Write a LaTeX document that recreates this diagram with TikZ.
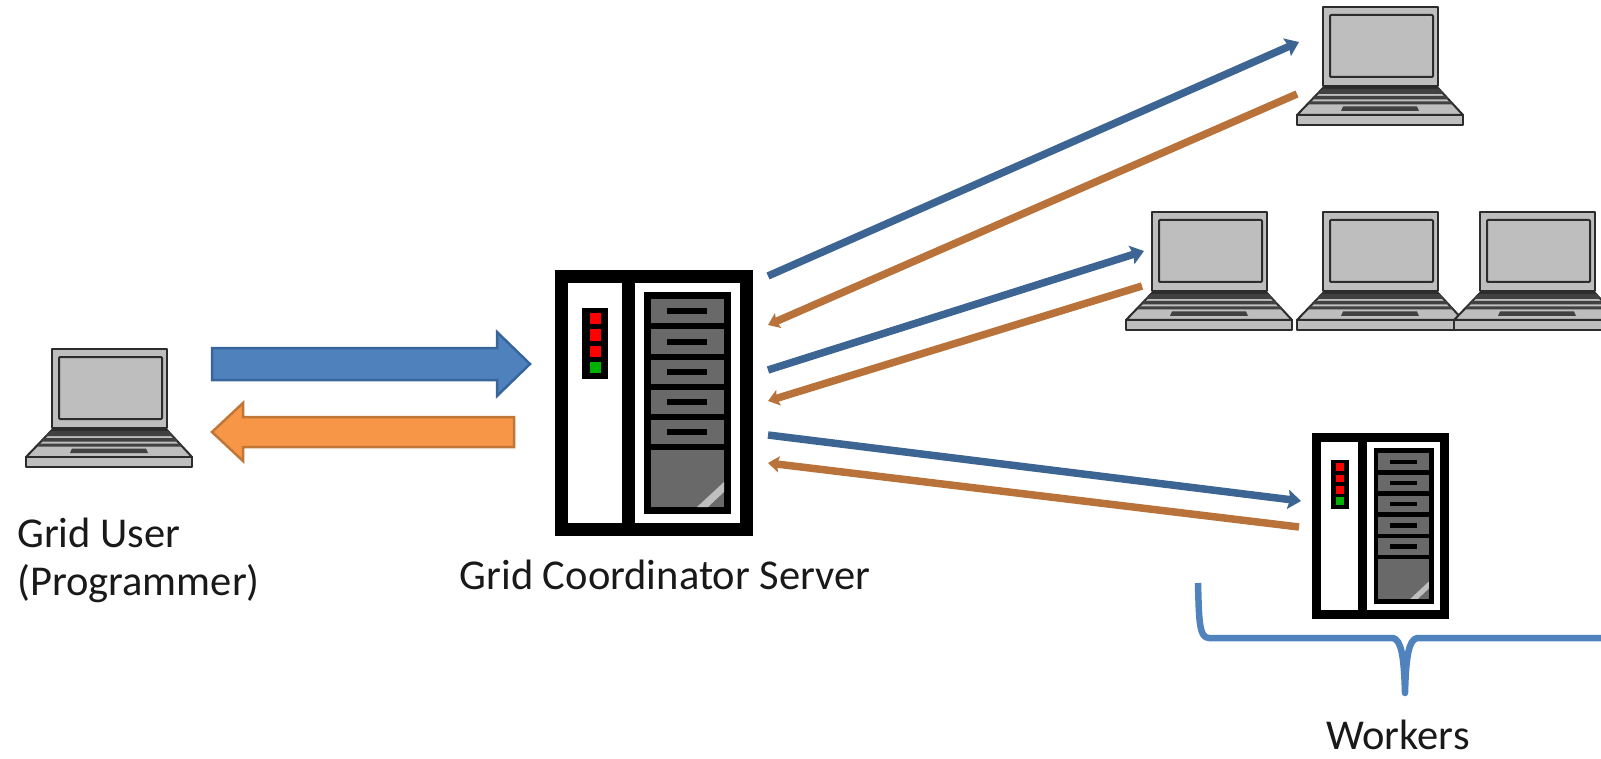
\documentclass[tikz,border=0pt]{standalone}
\usepackage{fontspec}
\setmainfont{Carlito}
\usetikzlibrary{arrows.meta,calc}
\definecolor{scr}{HTML}{BEBEBE}
\definecolor{lline}{HTML}{2C2C2C}
\definecolor{drawer}{HTML}{696969}
\definecolor{bfill}{HTML}{4F81BD}
\definecolor{bedge}{HTML}{37659C}
\definecolor{ofill}{HTML}{F79646}
\definecolor{oedge}{HTML}{C07636}
\definecolor{bline}{HTML}{3D6594}
\definecolor{oline}{HTML}{B9733A}
\definecolor{brace}{HTML}{5082BE}
\tikzset{
  x=1pt,y=-1pt,
  lapline/.style={draw=lline,line width=2pt,fill=scr,line join=round},
  keyband/.style={draw=none,fill=lline!90},
  rack/.style={fill=black,draw=none},
  drawerbox/.style={fill=drawer,draw=none},
  blockblue/.style={fill=bfill,draw=bedge,line width=2.5pt,line join=miter},
  blockorange/.style={fill=ofill,draw=oedge,line width=2.5pt,line join=miter},
  bluewire/.style={draw=bline,line width=7.5pt,-{Stealth[length=13pt,width=19pt,inset=2pt]}},
  orangewire/.style={draw=oline,line width=7.5pt,-{Stealth[length=11pt,width=16pt,inset=2pt]}},
  label/.style={font=\fontsize{42.5}{50}\selectfont,text=black!90,inner sep=0pt,align=left},
  laptop/.pic={
    \fill[scr] (0,108) -- (26,81) -- (141,81) -- (166,108) -- (166,118) -- (0,118) -- cycle;
    \draw[lapline] (26,0) rectangle (141,79);
    \draw[lapline,rounded corners=1pt] (33,8) rectangle (136,70);
    \draw[lapline] (0,108) -- (26,81) -- (141,81) -- (166,108) -- cycle;
    \draw[lapline] (0,108) rectangle (166,118);
    \fill[keyband] (25,82) -- (142,82) -- (147,87) -- (20,87) -- cycle;
    \fill[keyband] (18,89) -- (149,89) -- (152,92.5) -- (15,92.5) -- cycle;
    \fill[keyband] (13,94.5) -- (154,94.5) -- (156,97.5) -- (11,97.5) -- cycle;
    \fill[keyband] (46,99.5) -- (120,99.5) -- (122,104) -- (44,104) -- cycle;
  },
  server/.pic={
    \fill[rack] (0,0) rectangle (198,266);
    \fill[white] (13,13) rectangle (67,253);
    \fill[white] (80,13) rectangle (185,253);
    \fill[rack] (89,22) rectangle (176,244);
    \foreach \t in {29,59.5,89.5,120,150}{
      \fill[drawerbox] (96,\t) rectangle (169,\t+24);
      \fill[rack] (112,\t+9) rectangle (152,\t+15);
    }
    \fill[drawerbox] (96,180) rectangle (169,237);
    \fill[black!25] (142,237) -- (169,212) -- (169,222) -- (153,237) -- cycle;
    \fill[rack] (27,38) rectangle (53,109);
    \foreach \c in {49,65,81}{
      \fill[red] (35,\c-5.5) rectangle (46,\c+5.5);
    }
    \fill[green!70!black] (35,91.5) rectangle (46,102.5);
  }
}
\begin{document}
\begin{tikzpicture}
\useasboundingbox (0,0) rectangle (1601,759);
\begin{scope}
\clip (0,0) rectangle (1601,759);
\pic at (26,349) {laptop};
\pic at (1297,7) {laptop};
\pic at (1126,212) {laptop};
\pic at (1297,212) {laptop};
\pic at (1454,212) {laptop};
\pic at (555,270) {server};
\pic[xscale=0.692,yscale=0.70] at (1312,433) {server};

\draw[blockblue] (212,348) -- (497,348) -- (497,332) -- (530,364) -- (497,396) -- (497,380) -- (212,380) -- cycle;
\draw[blockorange] (514,417) -- (243,417) -- (243,403) -- (212,432) -- (243,461) -- (243,447) -- (514,447) -- cycle;

\coordinate (coordA) at (768,276);
\coordinate (coordB) at (768,325);
\coordinate (coordC) at (768,370);
\coordinate (coordD) at (768,401);
\coordinate (coordE) at (768,435);
\coordinate (coordF) at (768,463);
\coordinate (workA) at (1299,42);
\coordinate (workB) at (1297,94);
\coordinate (workC) at (1144,251);
\coordinate (workD) at (1142,286);
\coordinate (workE) at (1301,501);
\coordinate (workF) at (1299,527);
\draw[bluewire] (coordA) -- (workA);
\draw[orangewire] (workB) -- (coordB);
\draw[bluewire] (coordC) -- (workC);
\draw[orangewire] (workD) -- (coordD);
\draw[bluewire] (coordE) -- (workE);
\draw[orangewire] (workF) -- (coordF);

\draw[brace,line width=6.5pt,line join=round] (1198,583) .. controls (1199,620) and (1199,638) .. (1209,638) -- (1393,638) .. controls (1401,640) and (1404,655) .. (1405,693) .. controls (1406,655) and (1409,640) .. (1417,638) -- (1601,638);
\end{scope}

\node[label,anchor=west] (gu) at (17,533) {Grid User};
\node[label,anchor=west] (gp) at (17,584) {(Programmer)};
\node[label,anchor=center] (gc) at (665,575) {Grid Coordinator Server};
\node[label,anchor=center] (wk) at (1398,735) {Workers};
\end{tikzpicture}
\end{document}
